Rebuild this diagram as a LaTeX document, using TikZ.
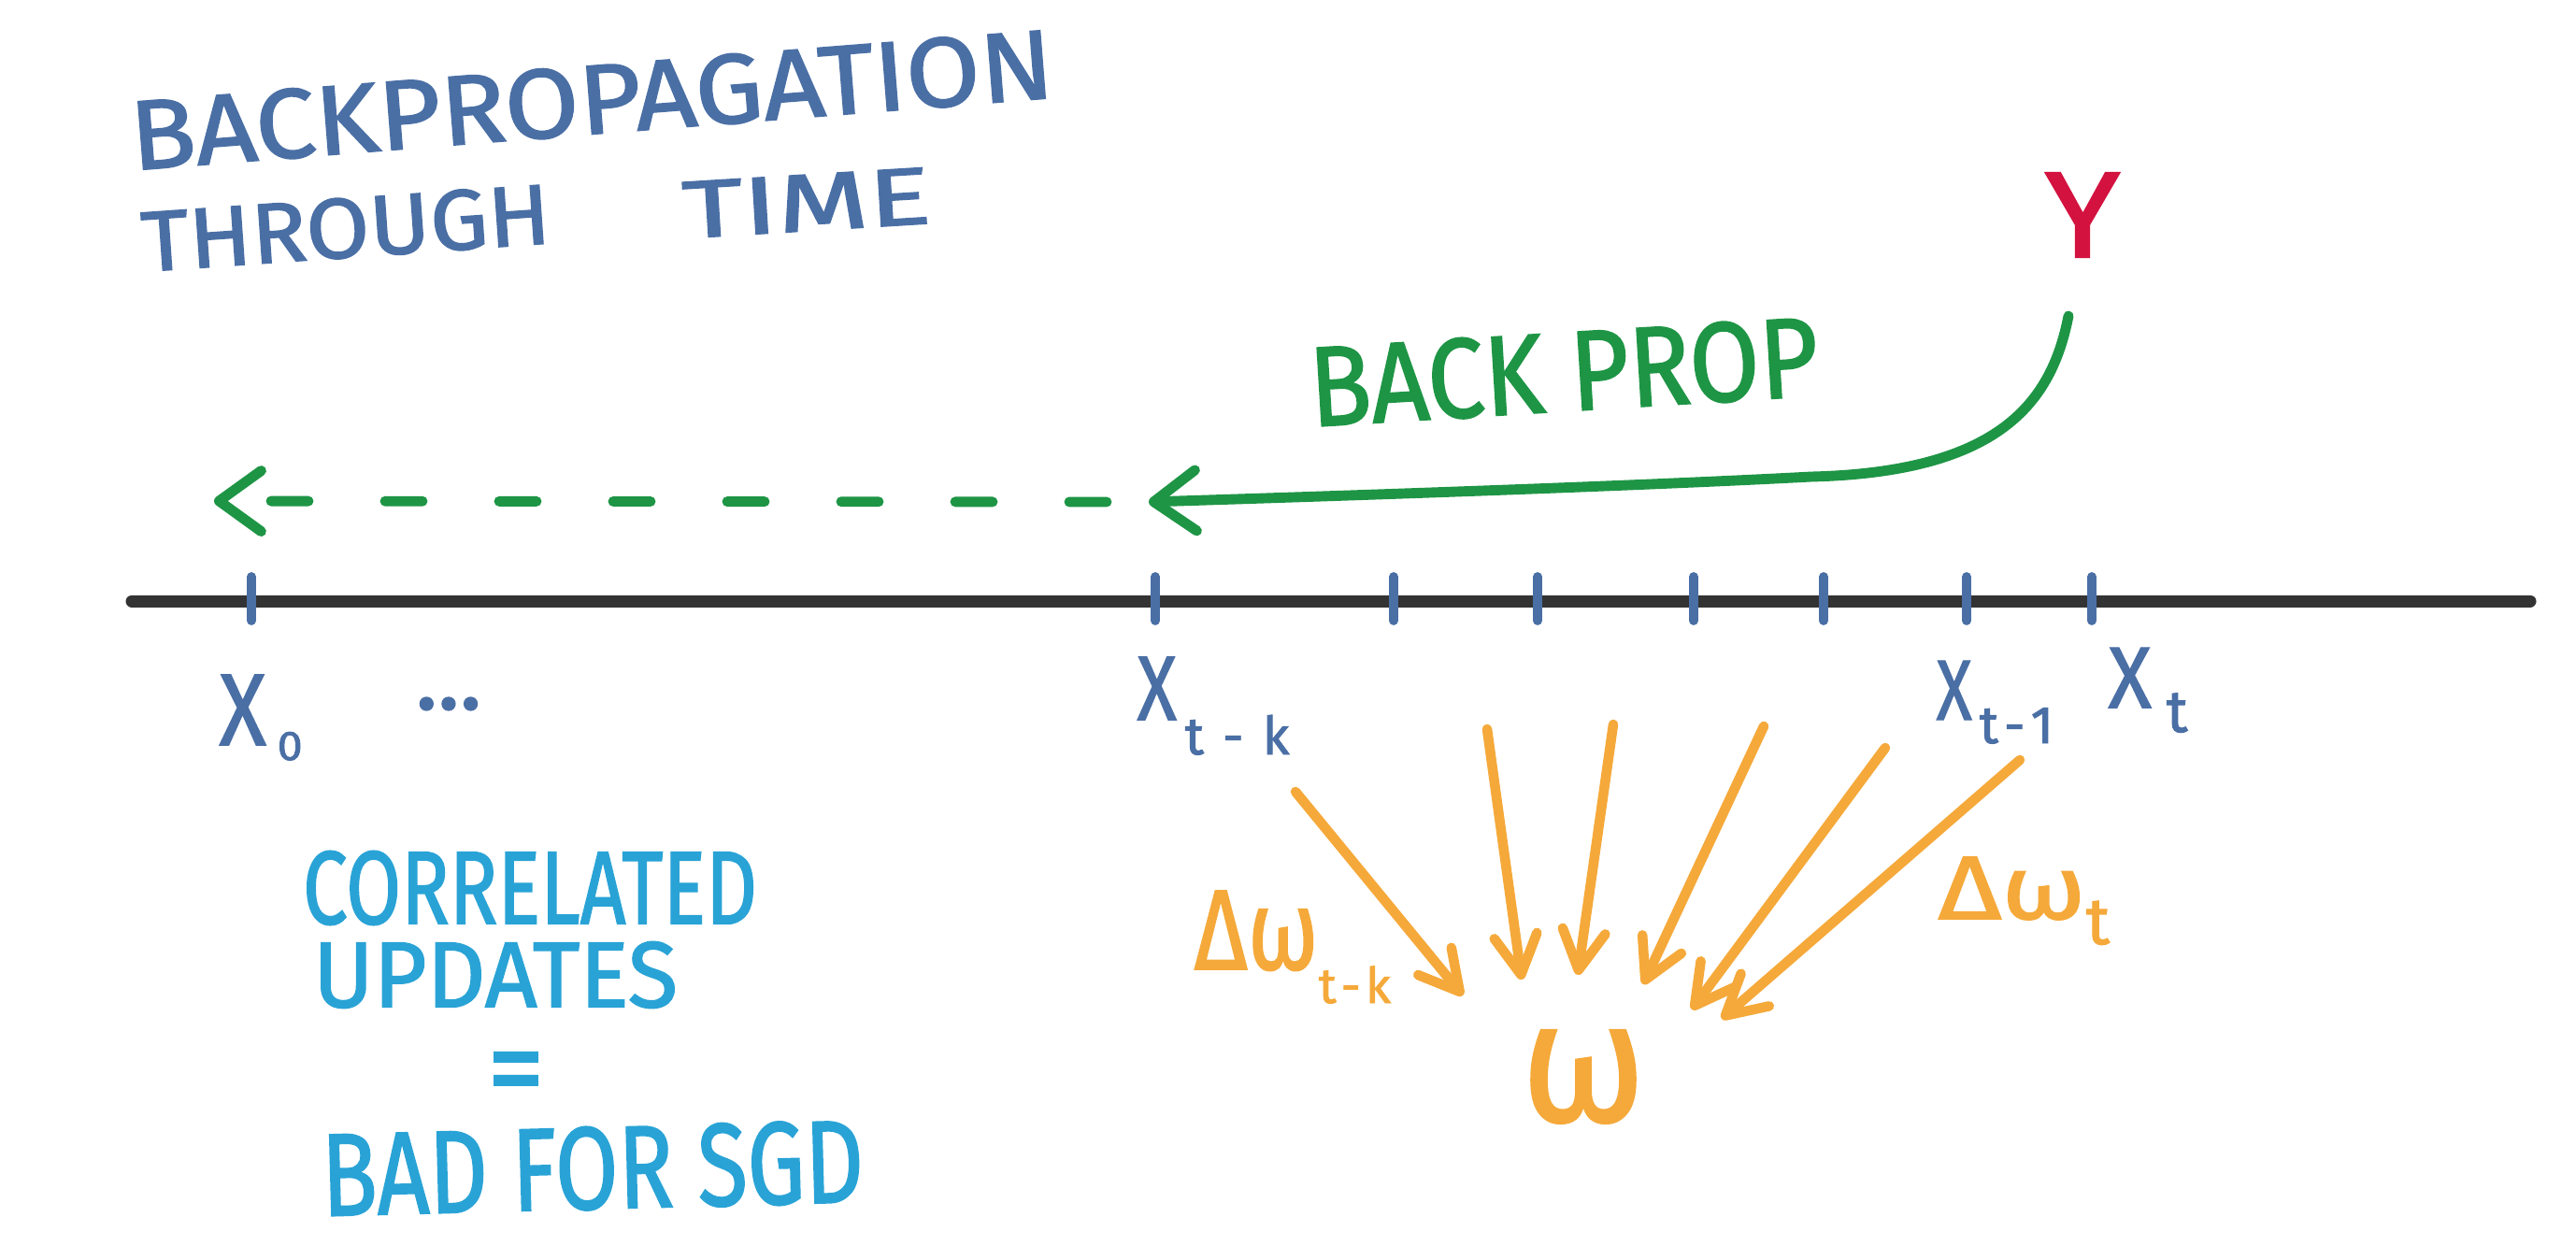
\documentclass[tikz,border=0pt]{standalone}
\usepackage{fontspec}
\setmainfont{Fira Sans}[FakeBold=1.6, AutoFakeBold=1.6]
\newfontfamily\markerfont{Fira Sans}[FakeBold=1.6]
\usepackage{graphicx}
\usetikzlibrary{arrows.meta}
\definecolor{tblue}{HTML}{4A6FA5}
\definecolor{cyant}{HTML}{29A3D6}
\definecolor{gr}{HTML}{1E9545}
\definecolor{org}{HTML}{F5A93A}
\definecolor{rd}{HTML}{D3123F}
\definecolor{axc}{HTML}{333333}
\tikzset{
  titletext/.style={text=tblue, inner sep=0pt, font=\bfseries},
  lbl/.style={text=tblue, inner sep=0pt},
  cyantext/.style={text=cyant, inner sep=0pt, font=\bfseries},
  greentext/.style={text=gr, inner sep=0pt, font=\bfseries},
  orgtext/.style={text=org, inner sep=0pt},
  axisline/.style={draw=axc, line width=3.7pt, line cap=round},
  tickmark/.style={draw=tblue, line width=2.8pt, line cap=round},
  gline/.style={draw=gr, line width=3.1pt, line cap=round, line join=round},
  ghead/.style={-{Straight Barb[length=4.5mm, width=6.5mm, line width=3.1pt, round]}},
  oarrow/.style={draw=org, line width=3pt, line cap=round,
    -{Straight Barb[length=4.2mm, width=4.6mm, line width=3pt, round]}},
}
\begin{document}
\begin{tikzpicture}
\useasboundingbox (0,0) rectangle (27.56,-13.48);
\fill[white] (0,0) rectangle (27.56,-13.48);

% title
\node[titletext, rotate=4.5] (title1) at (6.33,-1.07) {\resizebox{9.9cm}{0.74cm}{BACKPROPAGATION}};
\node[titletext, rotate=4] (title2a) at (3.70,-2.44) {\resizebox{4.38cm}{0.64cm}{THROUGH}};
\node[titletext, rotate=3.5] (title2b) at (8.63,-2.17) {\resizebox{2.66cm}{0.6cm}{TIME}};

% Y and BACK PROP
\node[text=rd, inner sep=0pt] (y) at (22.28,-2.30) {\resizebox{0.8cm}{0.9cm}{Y}};
\node[greentext, rotate=3.5] (bp) at (16.73,-3.98) {\resizebox{5.45cm}{0.85cm}{BACK PROP}};

% axis and ticks
\coordinate (axL) at (1.41,-6.43);
\coordinate (axR) at (27.07,-6.43);
\draw[axisline] (axL) -- (axR);
\foreach \n/\x in {t0/2.69, tk/12.36, t2/14.91, t3/16.45, t4/18.12, t5/19.51, t6/21.04, t7/22.38}{
  \coordinate (\n top) at (\x,-6.17);
  \coordinate (\n bot) at (\x,-6.64);
  \draw[tickmark] (\n top) -- (\n bot);
}

% x labels
\node[lbl, anchor=base west] (x0) at (2.34,-7.97)
  {\resizebox{0.5cm}{0.75cm}{X}\kern0.12cm\raisebox{-0.16cm}{\resizebox{0.27cm}{0.3cm}{0}}};
\node[lbl, font=\fontsize{28pt}{28pt}\selectfont] (xdots) at (4.80,-7.53) {...};
\node[lbl, anchor=base west] (xtk) at (12.16,-7.70)
  {\resizebox{0.42cm}{0.67cm}{X}\kern0.09cm\raisebox{-0.37cm}{\fontsize{16pt}{16pt}\selectfont t\kern0.2cm-\kern0.2cm k}};
\node[lbl, anchor=base west] (xt1) at (20.71,-7.70)
  {\resizebox{0.38cm}{0.63cm}{X}\kern0.08cm\raisebox{-0.25cm}{\fontsize{16pt}{16pt}\selectfont t\kern0.06cm-\kern0.06cm 1}};
\node[lbl, anchor=base west] (xt) at (22.55,-7.57)
  {\resizebox{0.46cm}{0.64cm}{X}\kern0.16cm\raisebox{-0.26cm}{\fontsize{18pt}{18pt}\selectfont t}};

% green back-propagation arrows
\coordinate (bpstart) at (22.13,-3.38);
\coordinate (bpmid) at (19.38,-5.10);
\coordinate (bpend) at (12.29,-5.37);
\coordinate (dashend) at (2.29,-5.36);
\draw[gline, ghead] (bpstart) .. controls (21.95,-4.30) and (21.40,-5.05) .. (bpmid)
  .. controls (17.50,-5.20) and (14.50,-5.30) .. (bpend);
\draw[gline, ghead, dash pattern=on 0.40cm off 0.82cm] ([xshift=-0.45cm]bpend) -- (dashend);

% orange update arrows
\coordinate (a1s) at (13.86,-8.47); \coordinate (a1e) at (15.65,-10.65);
\coordinate (a2s) at (15.91,-7.80); \coordinate (a2e) at (16.28,-10.48);
\coordinate (a3s) at (17.26,-7.75); \coordinate (a3e) at (16.88,-10.43);
\coordinate (a4s) at (18.87,-7.77); \coordinate (a4e) at (17.58,-10.53);
\coordinate (a5s) at (20.17,-8.00); \coordinate (a5e) at (18.10,-10.80);
\coordinate (a6s) at (21.61,-8.13); \coordinate (a6e) at (18.42,-10.90);
\foreach \i in {1,...,6}{ \draw[oarrow] (a\i s) -- (a\i e); }

\node[orgtext] (om) at (16.94,-11.52) {\resizebox{1.33cm}{0.97cm}{ω}};
\node[orgtext, anchor=base west] (dwtk) at (12.77,-10.37)
  {\resizebox{1.33cm}{0.84cm}{Δω}\raisebox{-0.36cm}{\fontsize{15pt}{15pt}\selectfont t\kern0.05cm-\kern0.05cm k}};
\node[orgtext, anchor=base west] (dwt) at (20.73,-9.83)
  {\resizebox{1.58cm}{0.66cm}{Δω}\raisebox{-0.27cm}{\fontsize{20pt}{20pt}\selectfont t}};

% cyan note
\node[cyantext] (cor1) at (5.67,-9.50) {\resizebox{4.86cm}{0.78cm}{CORRELATED}};
\node[cyantext] (cor2) at (5.30,-10.43) {\resizebox{3.9cm}{0.7cm}{UPDATES}};
\node[cyantext] (eq) at (5.52,-11.56) {\resizebox{0.61cm}{0.6cm}{=}};
\node[cyantext, rotate=1.5] (cor3) at (6.34,-12.50) {\resizebox{5.8cm}{0.88cm}{BAD FOR SGD}};
\end{tikzpicture}
\end{document}
